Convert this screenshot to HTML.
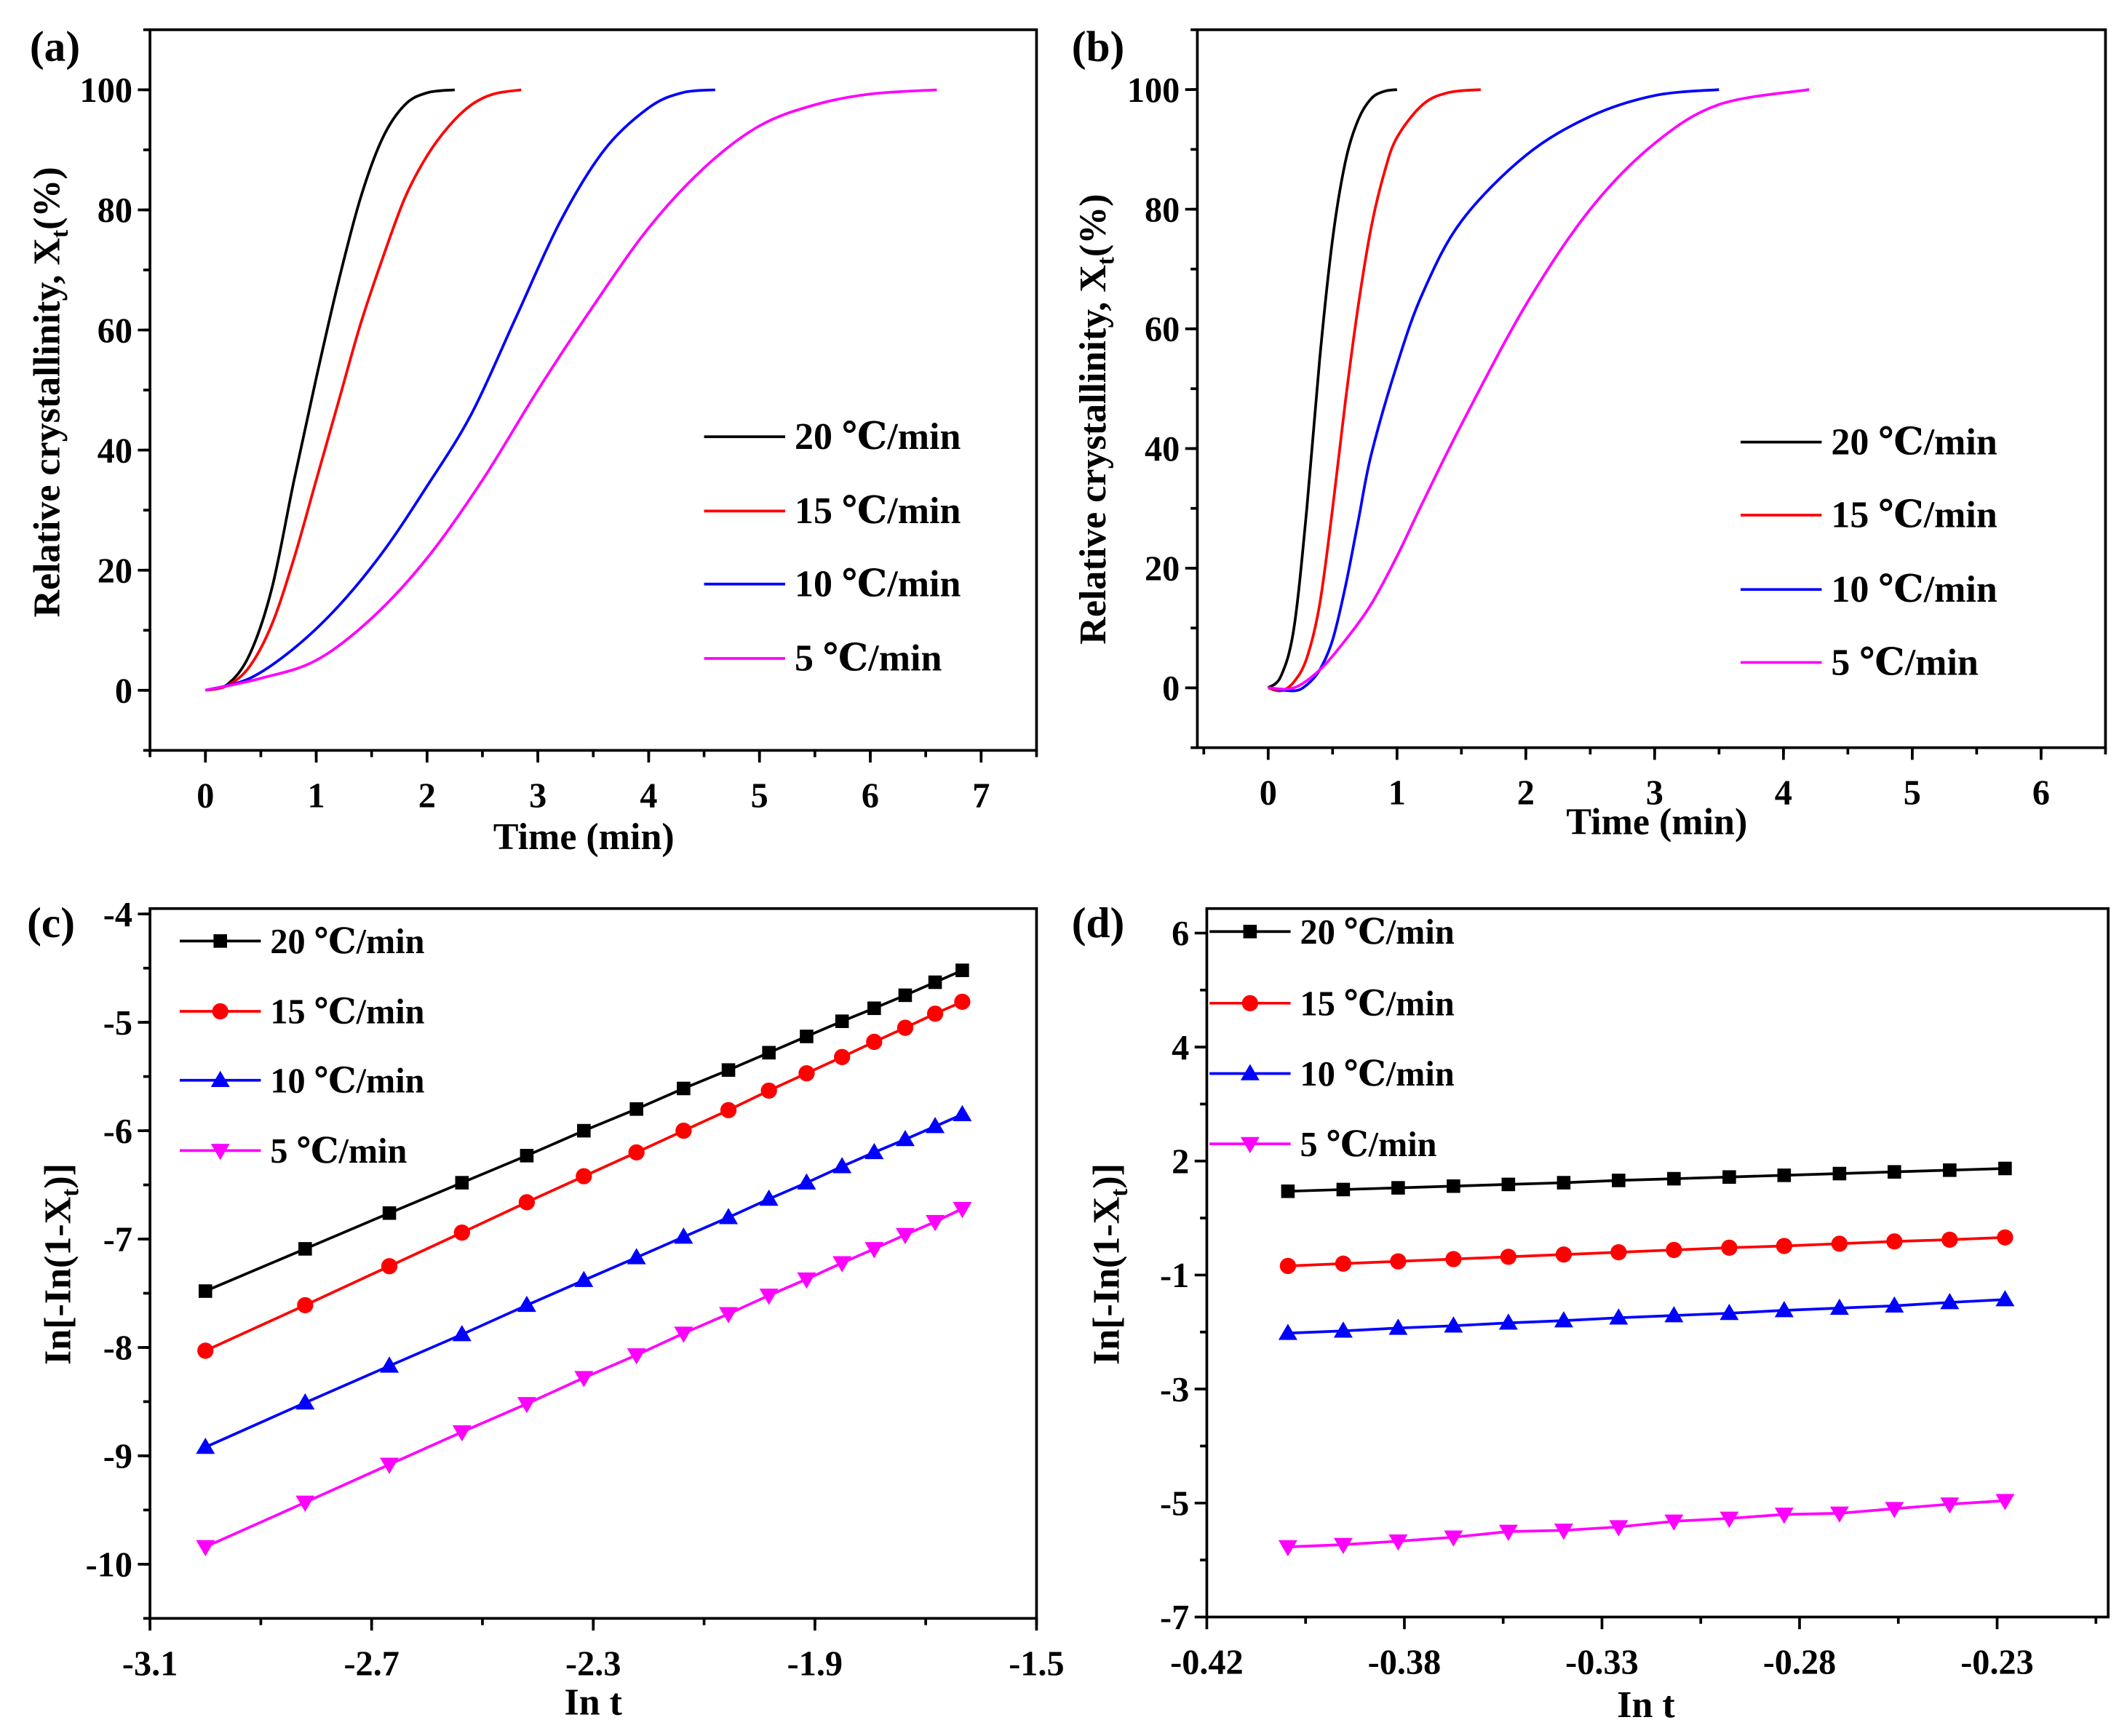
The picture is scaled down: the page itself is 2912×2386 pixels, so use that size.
<!DOCTYPE html>
<html><head><meta charset="utf-8"><style>
html,body{margin:0;padding:0;background:#fff}
svg{display:block}
text{font-family:"Liberation Serif","DejaVu Serif",serif;font-weight:bold;fill:#000}
</style></head><body>
<svg id="fig" width="2912" height="2386" viewBox="0 0 1568 1284" preserveAspectRatio="none" xmlns="http://www.w3.org/2000/svg"></svg>
<script>
// ---- Panel (a) data ----
const aBlackT=[0,0.2,0.4,0.6,0.8,1.0,1.2,1.4,1.6,1.8,2.0,2.25];
const aBlackX=[0,1,6,17,35,52,68,82,92,97.5,99.5,100];
const aRedT=[0,0.2,0.4,0.6,0.8,1.0,1.2,1.4,1.6,1.8,2.0,2.2,2.4,2.6,2.85];
const aRedX=[0,0.8,4,11,22,35,48,61,72,82,89,94,97.5,99.3,100];
const aBlueT=[0,0.4,0.8,1.2,1.6,2.0,2.4,2.8,3.2,3.6,4.0,4.3,4.6];
const aBlueX=[0,2,7,14,23,34,46,62,78,90,97,99.5,100];
const aMagT=[0,0.5,1.0,1.5,2.0,2.5,3.0,3.5,4.0,4.5,5.0,5.5,6.0,6.6];
const aMagX=[0,2,5,12,22,35,50,64,77,87,94,97.5,99.3,100];
// ---- Panel (b) data ----
const bBlackT=[0,0.1,0.2,0.3,0.4,0.5,0.6,0.7,0.8,0.9,1.0];
const bBlackX=[0,2,10,30,55,75,88,95,98.5,99.7,100];
const bRedT=[0,0.1,0.2,0.3,0.4,0.5,0.6,0.7,0.8,0.9,1.0,1.2,1.4,1.65];
const bRedX=[0,-0.5,1,5,14,30,48,64,77,86,92,97.5,99.5,100];
const bBlueT=[0,0.2,0.3,0.4,0.5,0.6,0.7,0.8,1.0,1.2,1.5,2.0,2.5,3.0,3.5];
const bBlueX=[0,-0.5,0.5,3,8,17,28,39,54,66,78,89,95.5,99,100];
const bMagT=[0,0.2,0.4,0.6,0.8,1.0,1.2,1.5,2.0,2.5,3.0,3.5,4.2];
const bMagX=[0,0,3,8,14,22,31,44,64,80,91,97.5,100];
// ---- Panel (c) data ----
const cLnT=[-3.000,-2.820,-2.668,-2.537,-2.420,-2.317,-2.222,-2.137,-2.056,-1.983,-1.915,-1.851,-1.793,-1.737,-1.683,-1.634];
const cBlack=[-7.48,-7.09,-6.76,-6.48,-6.23,-6.00,-5.80,-5.61,-5.44,-5.28,-5.13,-4.99,-4.87,-4.75,-4.63,-4.52];
const cRed=[-8.03,-7.61,-7.25,-6.94,-6.66,-6.42,-6.20,-6.00,-5.81,-5.63,-5.47,-5.32,-5.18,-5.05,-4.92,-4.81];
const cBlue=[-8.92,-8.51,-8.17,-7.88,-7.61,-7.38,-7.17,-6.98,-6.80,-6.63,-6.48,-6.33,-6.20,-6.08,-5.96,-5.85];
const cMag=[-9.84,-9.43,-9.08,-8.78,-8.52,-8.28,-8.07,-7.87,-7.69,-7.52,-7.37,-7.22,-7.09,-6.96,-6.84,-6.72];
// ---- Panel (d) data ----
const dLnT=[-0.4005,-0.3872,-0.3740,-0.3607,-0.3475,-0.3342,-0.3210,-0.3077,-0.2944,-0.2812,-0.2679,-0.2547,-0.2414,-0.2281];
const dBlack=[1.47,1.50,1.53,1.56,1.59,1.62,1.66,1.69,1.72,1.75,1.78,1.81,1.84,1.87];
const dRed=[0.16,0.20,0.24,0.28,0.32,0.36,0.40,0.44,0.48,0.51,0.55,0.59,0.62,0.66];
const dBlue=[-1.02,-0.98,-0.93,-0.89,-0.84,-0.80,-0.75,-0.71,-0.67,-0.62,-0.58,-0.54,-0.48,-0.43];
const dMag=[-4.77,-4.73,-4.67,-4.60,-4.50,-4.48,-4.42,-4.32,-4.27,-4.20,-4.18,-4.10,-4.02,-3.96];
// ---- tick labels ----
const aXTicks=[0,1,2,3,4,5,6,7];
const aYTicks=[0,20,40,60,80,100];
const bXTicks=[0,1,2,3,4,5,6];
const cXTicks=[-3.1,-2.7,-2.3,-1.9,-1.5];
const cXLabels=["-3.1","-2.7","-2.3","-1.9","-1.5"];
const cYTicks=[-4,-5,-6,-7,-8,-9,-10];
const dXTicks=[-0.42,-0.3725,-0.325,-0.2775,-0.23];
const dXLabels=["-0.42","-0.38","-0.33","-0.28","-0.23"];
const dYTicks=[6,4,2,0,-2,-4,-6];
const dYLabels=["6","4","2","-1","-3","-5","-7"];
const legendLabels=["20 ℃/min","15 ℃/min","10 ℃/min","5 ℃/min"];
const colors=["#000","#f00","#00f","#f0f"];

const NS="http://www.w3.org/2000/svg";
const svg=document.getElementById('fig');
function mk(tag,attrs,parent){const e=document.createElementNS(NS,tag);for(const k in attrs)e.setAttribute(k,attrs[k]);(parent||svg).appendChild(e);return e;}
function txt(s,x,y,size,anchor,parent){const t=mk('text',{x:x,y:y,'font-size':size,'text-anchor':anchor||'middle'},parent);t.textContent=s;return t;}
function smoothPath(P){
  let d='M'+P[0][0]+','+P[0][1];
  for(let i=0;i<P.length-1;i++){
    const p0=P[Math.max(0,i-1)],p1=P[i],p2=P[i+1],p3=P[Math.min(P.length-1,i+2)];
    const c1=[p1[0]+(p2[0]-p0[0])/6,p1[1]+(p2[1]-p0[1])/6];
    const c2=[p2[0]-(p3[0]-p1[0])/6,p2[1]-(p3[1]-p1[1])/6];
    d+=' C'+c1[0]+','+c1[1]+' '+c2[0]+','+c2[1]+' '+p2[0]+','+p2[1];
  }
  return d;
}

function panel(p){
  const g=mk('g',{});
  
  
  const sx=v=>p.L+(v-p.x0)/(p.x1-p.x0)*(p.R-p.L);
  const sy=v=>p.B-(v-p.y0)/(p.y1-p.y0)*(p.B-p.T);
  const box=mk('rect',{x:p.L,y:p.T,width:p.R-p.L,height:p.B-p.T,fill:'none',stroke:'#000','stroke-width':2},g);
  
  
  p.xt.forEach((v,i)=>{const x=sx(v);mk('line',{x1:x,x2:x,y1:p.B,y2:p.B+9,stroke:'#000','stroke-width':2},g);
    const t=txt(p.xl?p.xl[i]:String(v),x,p.B+42,26,'middle',g);
    });
  p.xm.forEach(v=>{const x=sx(v);mk('line',{x1:x,x2:x,y1:p.B,y2:p.B+5,stroke:'#000','stroke-width':2},g);});
  p.yt.forEach((v,i)=>{const y=sy(v);mk('line',{x1:p.L-9,x2:p.L,y1:y,y2:y,stroke:'#000','stroke-width':2},g);
    const t=txt(p.yl?p.yl[i]:String(v),p.L-13,y+9,26,'end',g);
    });
  p.ym.forEach(v=>{const y=sy(v);mk('line',{x1:p.L-5,x2:p.L,y1:y,y2:y,stroke:'#000','stroke-width':2},g);});
  p.series.forEach((s,i)=>{
    const P=s.x.map((v,j)=>[sx(v),sy(s.y[j])]);
    const pl=mk('path',{d:p.markers?('M'+P.map(q=>q.join(',')).join(' L')):smoothPath(P),fill:'none',stroke:colors[i],'stroke-width':2,'stroke-linejoin':'round'},g);
    
    
    if(p.markers) s.x.forEach((v,j)=>marker(i,sx(v),sy(s.y[j]),g));
  });
  legendLabels.forEach((lab,i)=>{
    const y=p.legY[i];
    const ln=mk('line',{x1:p.legX,x2:p.legX+60,y1:y,y2:y,stroke:colors[i],'stroke-width':2},g);
    
    if(p.markers) marker(i,p.legX+30,y,g);
    const t=txt(lab,p.legX+67,y+9,p.legSize,'start',g);
    
  });
  const xt=txt(p.xlab,p.xlx,p.xly,28,'middle',g);
  
  const yt=mk('text',{x:0,y:0,'font-size':28,'text-anchor':'middle',transform:'translate('+p.ylx+','+p.yly+') rotate(-90)'},g);
  
  yt.innerHTML=p.ylab;
  const pl=txt(p.tag,p.tagX,p.tagY,32,'start',g);
  
}
function marker(i,x,y,g){
  let m;
  if(i===0) m=mk('rect',{x:x-5,y:y-5,width:10,height:10,fill:colors[i]},g);
  else if(i===1) m=mk('circle',{cx:x,cy:y,r:6,fill:colors[i]},g);
  else if(i===2) m=mk('polygon',{points:(x)+','+(y-7)+' '+(x-7)+','+(y+5)+' '+(x+7)+','+(y+5),fill:colors[i]},g);
  else m=mk('polygon',{points:(x)+','+(y+7)+' '+(x-7)+','+(y-5)+' '+(x+7)+','+(y-5),fill:colors[i]},g);
  
  
}
const ylabA='Relative crystallinity, X<tspan font-size="18" dy="6">t</tspan><tspan dy="-6">(%)</tspan>';
const ylabC='In[-In(1-X<tspan font-size="18" dy="6">t</tspan><tspan dy="-6">)]</tspan>';
function range(a,b,s){const r=[];for(let v=a;v<=b+1e-9;v+=s)r.push(+v.toFixed(4));return r;}

panel({name:'panel-a',L:111,R:767,T:22,B:555,x0:-0.5,x1:7.5,y0:-10,y1:110,
  xt:aXTicks,xm:range(-0.5,7.5,0.5),yt:aYTicks,ym:range(-10,110,10),
  series:[{x:aBlackT,y:aBlackX},{x:aRedT,y:aRedX},{x:aBlueT,y:aBlueX},{x:aMagT,y:aMagX}],
  legX:521,legY:[323,378,432,487],legSize:28,
  xlab:'Time (min)',xlx:432,xly:628,ylab:ylabA,ylx:44,yly:290,tag:'(a)',tagX:22,tagY:45});
panel({name:'panel-b',L:886,R:1558,T:22,B:553,x0:-0.55,x1:6.5,y0:-10,y1:110,
  xt:bXTicks,xm:range(-0.5,6.5,0.5),yt:aYTicks,ym:range(-10,110,10),
  series:[{x:bBlackT,y:bBlackX},{x:bRedT,y:bRedX},{x:bBlueT,y:bBlueX},{x:bMagT,y:bMagX}],
  legX:1288,legY:[327,381,436,490],legSize:28,
  xlab:'Time (min)',xlx:1226,xly:617,ylab:ylabA,ylx:818,yly:310,tag:'(b)',tagX:793,tagY:45});
panel({name:'panel-c',L:111,R:767,T:672,B:1197,x0:-3.1,x1:-1.5,y0:-10.5,y1:-3.95,
  xt:cXTicks,xl:cXLabels,xm:range(-3.1,-1.5,0.2),yt:cYTicks,ym:range(-10.5,-4,0.5),
  series:[{x:cLnT,y:cBlack},{x:cLnT,y:cRed},{x:cLnT,y:cBlue},{x:cLnT,y:cMag}],markers:true,
  legX:133,legY:[696,748,799,851],legSize:26,
  xlab:'In t',xlx:439,xly:1268,ylab:ylabC,ylx:52,yly:935,tag:'(c)',tagX:20,tagY:693});
panel({name:'panel-d',L:893,R:1560,T:672,B:1196,x0:-0.42,x1:-0.2033,y0:-6,y1:6.43,
  xt:dXTicks,xl:dXLabels,xm:[-0.39625,-0.34875,-0.30125,-0.25375,-0.20625],yt:dYTicks,yl:dYLabels,ym:[5,3,1,-1,-3,-5],
  series:[{x:dLnT,y:dBlack},{x:dLnT,y:dRed},{x:dLnT,y:dBlue},{x:dLnT,y:dMag}],markers:true,
  legX:895,legY:[689,742,794,846],legSize:26,
  xlab:'In t',xlx:1218,xly:1270,ylab:ylabC,ylx:828,yly:935,tag:'(d)',tagX:793,tagY:693});
</script>
</body></html>
